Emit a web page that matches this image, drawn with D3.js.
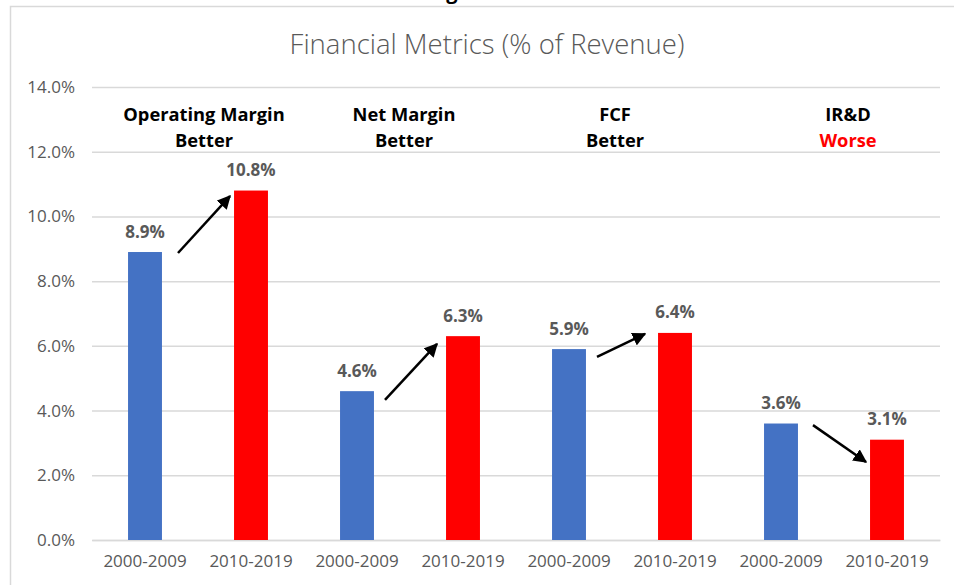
<!DOCTYPE html>
<html>
<head>
<meta charset="utf-8">
<script src="https://cdn.jsdelivr.net/npm/d3@7"></script>
<style>
  body { margin: 0; background: #fff; }
  text { font-family: "Open Sans", Lato, sans-serif; }
</style>
</head>
<body>
<div id="chart"></div>
<script>
// data
var periods = ["2000-2009", "2010-2019", "2000-2009", "2010-2019", "2000-2009", "2010-2019", "2000-2009", "2010-2019"];
var values = [8.9, 10.8, 4.6, 6.3, 5.9, 6.4, 3.6, 3.1];
var barColors = ["#4472c4", "#ff0000", "#4472c4", "#ff0000", "#4472c4", "#ff0000", "#4472c4", "#ff0000"];
var metricNames = ["Operating Margin", "Net Margin", "FCF", "IR&D"];
var verdicts = ["Better", "Better", "Better", "Worse"];
var yTicks = [0, 2, 4, 6, 8, 10, 12, 14];
// arrows: from / to values (% of revenue)
var arrowFrom = [8.87, 4.33, 5.66, 3.55];
var arrowTo = [10.63, 6.06, 6.37, 2.41];

var chart = {};
chart.w = 954;
chart.h = 585;
chart.margin = { top: 87, right: 14, bottom: 45, left: 92 };

var svg = d3.select("#chart")
  .append("svg")
  .attr("width", chart.w)
  .attr("height", chart.h);

var defs = svg.append("defs");
defs.append("marker")
  .attr("id", "head")
  .attr("viewBox", "0 0 10 10")
  .attr("refX", 9)
  .attr("refY", 5)
  .attr("markerWidth", 5.5)
  .attr("markerHeight", 5.5)
  .attr("markerUnits", "strokeWidth")
  .attr("orient", "auto")
  .append("path")
  .attr("d", "M0,0 L10,5 L0,10 Z")
  .attr("fill", "#000");

// outer frame
svg.append("rect")
  .attr("x", 10.5)
  .attr("y", 6.5)
  .attr("width", 960)
  .attr("height", 600)
  .attr("fill", "none")
  .attr("stroke", "#d9d9d9")
  .attr("stroke-width", 1.5);

// clipped heading from above (cut off in the source too)
svg.append("text")
  .attr("x", 452)
  .attr("y", -1)
  .attr("text-anchor", "middle")
  .style("font-size", "20px")
  .style("font-weight", "bold")
  .attr("fill", "#000")
  .text("g");

var x = d3.scaleBand()
  .domain(d3.range(periods.length))
  .range([chart.margin.left, chart.w - chart.margin.right]);

var y = d3.scaleLinear()
  .domain([0, 14])
  .range([chart.h - chart.margin.bottom, chart.margin.top]);

var barW = x.bandwidth() * 0.32;
var cx = function(i) { return x(i) + x.bandwidth() / 2; };

// title
svg.append("text")
  .attr("x", 487)
  .attr("y", 54)
  .attr("text-anchor", "middle")
  .style("font-size", "27.5px")
  .style("font-weight", 300)
  .attr("fill", "#595959")
  .text("Financial Metrics (% of Revenue)");

// grid
var yAxis = d3.axisLeft(y)
  .tickValues(yTicks)
  .tickSize(-(chart.w - chart.margin.left - chart.margin.right))
  .tickPadding(17)
  .tickFormat(function(d) { return d.toFixed(1) + "%"; });

var gy = svg.append("g")
  .attr("transform", "translate(" + chart.margin.left + ",0)")
  .call(yAxis);
gy.select(".domain").remove();
gy.selectAll("line").attr("stroke", "#d9d9d9").attr("stroke-width", 1.5);
gy.selectAll("text")
  .attr("fill", "#595959")
  .style("font-size", "17px");

// x axis
var xAxis = d3.axisBottom(x)
  .tickSize(0)
  .tickPadding(15)
  .tickFormat(function(i) { return periods[i]; });

var gx = svg.append("g")
  .attr("transform", "translate(0," + y(0) + ")")
  .call(xAxis);
gx.select(".domain").attr("stroke", "#d9d9d9").attr("stroke-width", 1.5);
gx.selectAll("text")
  .attr("fill", "#595959")
  .style("font-size", "17px");

// bars
svg.append("g")
  .selectAll("rect")
  .data(values)
  .enter().append("rect")
  .attr("x", function(d, i) { return cx(i) - barW / 2; })
  .attr("y", function(d) { return y(d); })
  .attr("width", barW)
  .attr("height", function(d) { return y(0) - y(d); })
  .attr("fill", function(d, i) { return barColors[i]; });

// value labels
svg.append("g")
  .selectAll("text")
  .data(values)
  .enter().append("text")
  .attr("x", function(d, i) { return cx(i); })
  .attr("y", function(d) { return y(d) - 14.5; })
  .attr("text-anchor", "middle")
  .style("font-size", "17px")
  .style("font-weight", "bold")
  .attr("fill", "#595959")
  .text(function(d) { return d.toFixed(1) + "%"; });

// group headers
var headerShift = [6, -6, -7, 14];
var heads = svg.append("g")
  .selectAll("g")
  .data(metricNames)
  .enter().append("g")
  .attr("transform", function(d, i) {
    return "translate(" + ((cx(i * 2) + cx(i * 2 + 1)) / 2 + headerShift[i]) + ",0)";
  });
heads.append("text")
  .attr("y", 121)
  .attr("text-anchor", "middle")
  .style("font-size", "18.3px")
  .style("font-weight", "bold")
  .attr("fill", "#000")
  .text(function(d) { return d; });
heads.append("text")
  .attr("y", 147)
  .attr("text-anchor", "middle")
  .style("font-size", "18.3px")
  .style("font-weight", "bold")
  .attr("fill", function(d, i) { return verdicts[i] == "Worse" ? "#ff0000" : "#000"; })
  .text(function(d, i) { return verdicts[i]; });

// arrows
var arrowStartDx = [33, 28, 28, 32];
var arrowEndDx = [21, 26, 30, 21];
svg.append("g")
  .selectAll("line")
  .data(arrowFrom)
  .enter().append("line")
  .attr("x1", function(d, i) { return cx(i * 2) + arrowStartDx[i]; })
  .attr("y1", function(d) { return y(d); })
  .attr("x2", function(d, i) { return cx(i * 2 + 1) - arrowEndDx[i]; })
  .attr("y2", function(d, i) { return y(arrowTo[i]); })
  .attr("stroke", "#000")
  .attr("stroke-width", 2.5)
  .attr("marker-end", "url(#head)");
</script>
</body>
</html>
